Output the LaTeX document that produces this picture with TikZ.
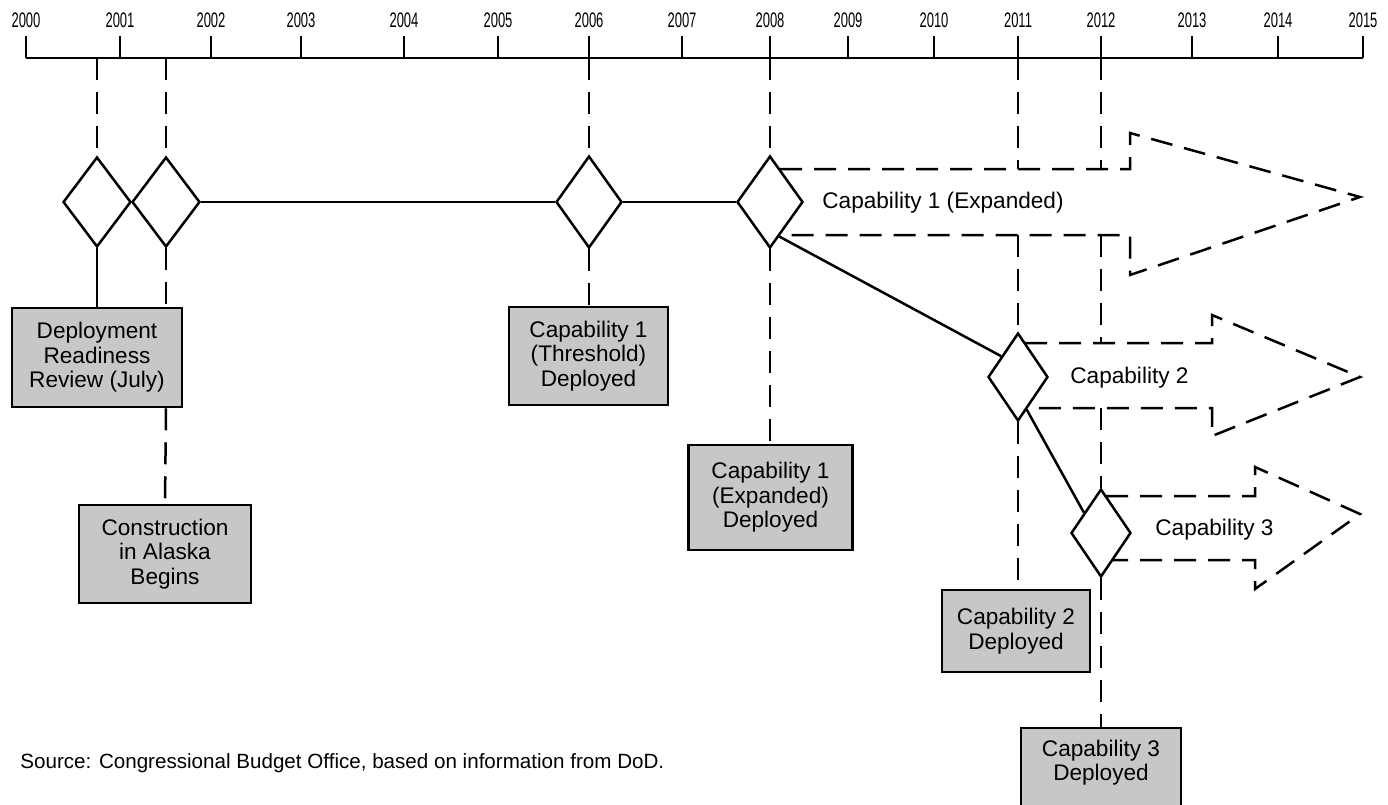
\documentclass[tikz,border=0pt]{standalone}
\usepackage{fontspec}
\usepackage{graphicx}
\setmainfont{Liberation Sans}
\usetikzlibrary{shapes.geometric,calc}
\begin{document}
\begin{tikzpicture}[x=0.5pt,y=-0.5pt,
  lw/.style={line width=1.25pt},
  solidln/.style={lw},
  dashln/.style={lw,dash pattern=on 11pt off 6pt},
  evbox/.style={draw,lw,fill=black!22,align=center,inner sep=0pt,
    font=\fontsize{11.3}{12.2}\selectfont},
  bigdia/.style={draw,lw,diamond,inner sep=0pt,minimum width=34pt,minimum height=45pt},
  middia/.style={draw,lw,diamond,inner sep=0pt,minimum width=33pt,minimum height=46pt},
  smalldia/.style={draw,lw,diamond,inner sep=0pt,minimum width=30pt,minimum height=44pt},
  yearlbl/.style={inner sep=0pt,font=\fontsize{10.5}{11}\selectfont},
  caplbl/.style={inner sep=0pt,anchor=west,font=\fontsize{11.3}{12}\selectfont}]
\useasboundingbox (0,0) rectangle (1388,804);
\fill[white] (0,0) rectangle (1388,804);

% time axis
\coordinate (axL) at (26,58);
\coordinate (axR) at (1363,58);
\draw[solidln] (axL) -- (axR);
\foreach \yr/\xx in {2000/26,2001/120,2002/211,2003/301,2004/404,2005/498,2006/589,2007/682,
                     2008/770,2009/848,2010/934,2011/1018,2012/1101,2013/1192,2014/1278,2015/1363}{
  \coordinate (t\yr) at (\xx,58);
  \draw[solidln] (t\yr) -- (\xx,36);
  \node[yearlbl] (y\yr) at (\xx,20) {\scalebox{0.62}[1]{\yr}};
}
\coordinate (tA) at (97,58);
\coordinate (tB) at (166,58);

% diamonds
\node[bigdia] (D1) at (97,202) {};
\node[bigdia] (D2) at (166,202) {};
\node[middia] (D3) at (589,202) {};
\node[middia] (D4) at (770,202) {};
\node[smalldia] (D5) at (1018,377) {};
\node[smalldia] (D6) at (1101,533) {};

% event boxes
\node[evbox,minimum width=85pt,minimum height=49.5pt] (B1) at (97,357.5)
  {Deployment\\Readiness\\Review (July)};
\node[evbox,minimum width=86pt,minimum height=49pt] (B2) at (165,554)
  {Construction\\in Alaska\\Begins};
\node[evbox,minimum width=79.5pt,minimum height=49pt] (B3) at (588.5,356)
  {Capability 1\\(Threshold)\\Deployed};
\node[evbox,minimum width=82pt,minimum height=52.5pt] (B4) at (770.5,497.5)
  {Capability 1\\(Expanded)\\Deployed};
\node[evbox,minimum width=74pt,minimum height=41pt] (B5) at (1016,631)
  {Capability 2\\Deployed};
\node[evbox,minimum width=80pt,minimum height=43.5pt] (B6) at (1101,771.5)
  {Capability 3\\Deployed\rule[-11pt]{0pt}{11pt}};

% solid links
\draw[solidln] (D1.south) -- (B1.north);
\draw[solidln] (D2.east) -- (D3.west);
\draw[solidln] (D3.east) -- (D4.west);
\draw[solidln] (D4.-75) -- (D5.129);
\draw[solidln] (D5.-75) -- (D6.130);

% dashed verticals
\draw[dashln] (tA) -- (D1.north);
\draw[dashln] (tB) -- (D2.north);
\draw[dashln] (D2.south) -- (D2.south |- B1.north);
\draw[dashln] (D2.south |- B1.south) -- (B2.north);
\draw[dashln] (t2006) -- (D3.north);
\draw[dashln] (D3.south) -- (D3.south |- B3.north);
\draw[dashln] (t2008) -- (D4.north);
\draw[dashln] (D4.south) -- (D4.south |- B4.north);

% capability arrows
\coordinate (a1ts) at ($(D4.center)+(10,-33)$);
\coordinate (a1bs) at ($(D4.center)+(9.5,33)$);
\coordinate (a1nt) at (1130,133);
\coordinate (a1nb) at (1130,275);
\coordinate (a1tip) at (1360,197);
\draw[dashln] (a1ts) -- (a1ts -| a1nt) -- (a1nt) -- (a1tip) -- (a1nb) -- (a1bs -| a1nb) -- (a1bs);
\node[caplbl] (L1) at (822,203) {Capability 1 (Expanded)};

\coordinate (a2ts) at ($(D5.center)+(7,-34)$);
\coordinate (a2bs) at ($(D5.center)+(9,31)$);
\coordinate (a2nt) at (1212,315);
\coordinate (a2nb) at (1212,436);
\coordinate (a2tip) at (1360,377);
\draw[dashln] (a2ts) -- (a2ts -| a2nt) -- (a2nt) -- (a2tip) -- (a2nb) -- (a2bs -| a2nb) -- (a2bs);
\node[caplbl] (L2) at (1070,378) {Capability 2};

\coordinate (a3ts) at ($(D6.center)+(5,-37)$);
\coordinate (a3bs) at ($(D6.center)+(11,27)$);
\coordinate (a3nt) at (1255,467);
\coordinate (a3nb) at (1255,589);
\coordinate (a3tip) at (1360,514);
\draw[dashln] (a3ts) -- (a3ts -| a3nt) -- (a3nt) -- (a3tip) -- (a3nb) -- (a3bs -| a3nb) -- (a3bs);
\node[caplbl] (L3) at (1155,530) {Capability 3};

% 2011 and 2012 verticals
\draw[dashln] (t2011) -- (t2011 |- a1ts);
\draw[dashln] (t2011 |- a1bs) -- (D5.north);
\draw[dashln] (D5.south) -- (D5.south |- B5.north);
\draw[dashln] (t2012) -- (t2012 |- a1ts);
\draw[dashln] (t2012 |- a1bs) -- (t2012 |- a2ts);
\draw[dashln] (t2012 |- a2bs) -- (D6.north);
\draw[dashln] (D6.south) -- (B6.north);

% source
\node[caplbl,font=\fontsize{10.3}{12}\selectfont] (src) at (20,763)
  {Source: Congressional Budget Office, based on information from DoD.};
\end{tikzpicture}
\end{document}
